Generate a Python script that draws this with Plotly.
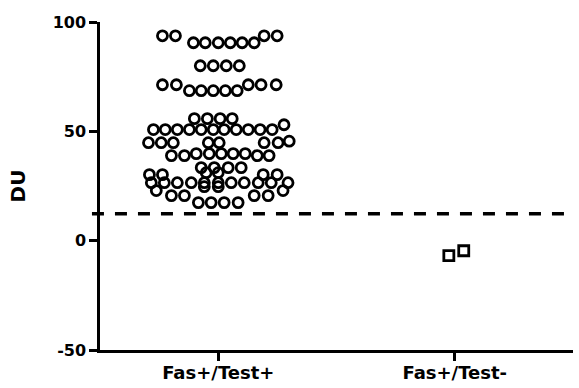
import plotly.graph_objects as go

categories = ["Fas+/Test+", "Fas+/Test-"]

# Fas+/Test+ group: DU values and horizontal scatter offsets (category units)
pos_pos_du = [
    93.7, 93.7, 90.5, 90.5, 90.5, 90.5, 90.5, 90.5, 93.7, 93.7,
    80.0, 80.0, 80.0, 80.0,
    71.3, 71.3, 68.6, 68.6, 68.6, 68.6, 68.6, 71.3, 71.3, 71.3,
    55.8, 55.8, 55.8, 55.8,
    50.8, 50.8, 50.8, 50.8, 50.8, 50.8, 50.8, 50.8, 50.8, 50.8, 50.8, 53.0,
    44.8, 44.8, 44.8, 44.8, 44.8, 44.8, 44.8, 45.5,
    38.9, 38.9, 39.8, 39.8, 39.8, 39.8, 39.8, 38.9, 38.9,
    33.4, 33.4, 33.4, 33.4,
    30.2, 30.2, 31.1, 31.1, 30.2, 30.2,
    26.5, 26.5, 26.5, 26.5, 26.5, 26.5, 26.5, 26.5, 26.5, 26.5, 26.5,
    24.7, 24.7,
    22.9, 20.6, 20.6, 20.6, 20.6, 22.9,
    17.4, 17.4, 17.4, 17.4,
]
pos_pos_jitter = [
    -0.236, -0.181, -0.105, -0.055, 0.000, 0.051, 0.101, 0.152, 0.194, 0.249,
    -0.076, -0.021, 0.034, 0.089,
    -0.236, -0.177, -0.122, -0.072, -0.021, 0.030, 0.080, 0.127, 0.181, 0.245,
    -0.101, -0.046, 0.008, 0.059,
    -0.274, -0.224, -0.173, -0.122, -0.072, -0.021, 0.025, 0.076, 0.127, 0.177, 0.228, 0.278,
    -0.295, -0.241, -0.190, -0.042, 0.004, 0.194, 0.253, 0.300,
    -0.198, -0.143, -0.093, -0.038, 0.013, 0.063, 0.114, 0.165, 0.215,
    -0.072, -0.017, 0.042, 0.097,
    -0.291, -0.236, -0.051, 0.000, 0.190, 0.249,
    -0.283, -0.228, -0.173, -0.114, -0.059, 0.000, 0.055, 0.110, 0.169, 0.224, 0.295,
    -0.059, 0.000,
    -0.262, -0.198, -0.143, 0.152, 0.211, 0.274,
    -0.084, -0.030, 0.025, 0.084,
]

# Fas+/Test- group
pos_neg_du = [-6.8, -4.6]
pos_neg_jitter = [-0.025, 0.038]

cutoff = 12.3
y_ticks = [-50, 0, 50, 100]
y_tick_labels = ["-50", "0", "50", "100"]

FONT = "DejaVu Sans"

fig = go.Figure()
fig.add_trace(go.Scatter(
    x=[0 + j for j in pos_pos_jitter], y=pos_pos_du, mode="markers",
    marker=dict(symbol="circle-open", size=10, color="black", line=dict(width=2.8, color="black")),
    showlegend=False, hoverinfo="skip",
))
fig.add_trace(go.Scatter(
    x=[1 + j for j in pos_neg_jitter], y=pos_neg_du, mode="markers",
    marker=dict(symbol="square-open", size=10, color="black", line=dict(width=2.8, color="black")),
    showlegend=False, hoverinfo="skip",
))

fig.add_shape(type="line", xref="paper", yref="y", x0=-0.017, x1=1.0, y0=cutoff, y1=cutoff,
              line=dict(color="black", width=3.5, dash="12px,11px"))

fig.update_layout(
    width=579, height=388,
    margin=dict(l=100, r=6, t=22, b=38),
    paper_bgcolor="white", plot_bgcolor="white",
    font=dict(family=FONT, color="black"),
    xaxis=dict(
        range=[-0.5, 1.5], tickmode="array", tickvals=[0, 1], ticktext=categories,
        showline=True, linecolor="black", linewidth=2.5,
        ticks="outside", ticklen=8, tickwidth=2.5, tickcolor="black",
        showgrid=False, zeroline=False, automargin=False, ticklabelstandoff=-3,
        tickfont=dict(family=FONT, size=18, color="black", weight="bold"),
    ),
    yaxis=dict(
        range=[-50, 100], tickmode="array", tickvals=y_ticks, ticktext=y_tick_labels,
        showline=True, linecolor="black", linewidth=2.5,
        ticks="outside", ticklen=8, tickwidth=2.5, tickcolor="black",
        showgrid=False, zeroline=False, automargin=False,
        tickfont=dict(family=FONT, size=16, color="black", weight="bold"),
        title=dict(text="DU", font=dict(family=FONT, size=20, color="black", weight="bold"), standoff=22),
    ),
)

fig.write_html("out.html")
